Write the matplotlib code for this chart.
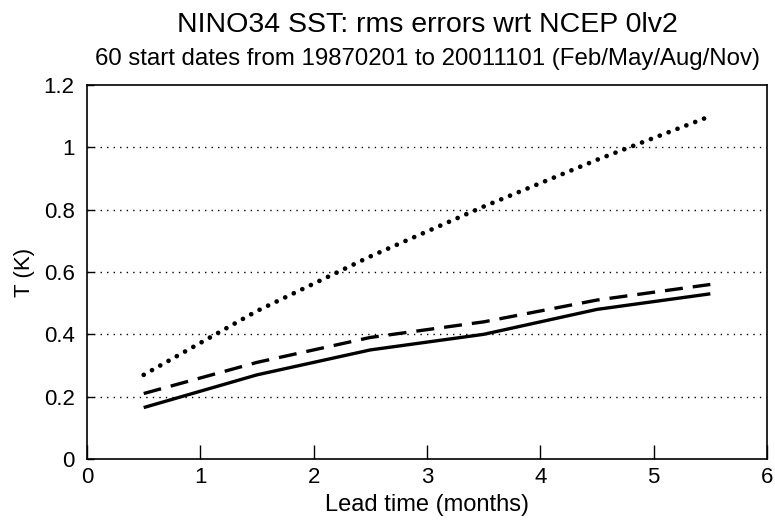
import matplotlib.pyplot as plt
import numpy as np

plt.rcParams['font.family'] = ['Liberation Sans', 'DejaVu Sans']

# lead times (months) and rms errors (K)
lead = [0.5, 1.5, 2.5, 3.5, 4.5, 5.5]
rms_solid = [0.165, 0.27, 0.35, 0.40, 0.48, 0.53]
rms_dashed = [0.21, 0.31, 0.39, 0.44, 0.51, 0.56]
rms_dotted = [0.27, 0.475, 0.65, 0.81, 0.96, 1.10]

yticks = [0, 0.2, 0.4, 0.6, 0.8, 1, 1.2]
ytick_labels = ['0', '0.2', '0.4', '0.6', '0.8', '1', '1.2']
xticks = [0, 1, 2, 3, 4, 5, 6]

fig = plt.figure(figsize=(7.75, 5.22), dpi=100)
left, bottom, width, height = 0.1123, 0.1207, 0.8774, 0.7165
ax = fig.add_axes([left, bottom, width, height])

# dotted reference grid at the interior y ticks
for y in yticks[1:-1]:
    ax.axhline(y, color='black', lw=1.0, ls=(0, (1, 3.7)), zorder=1)

ax.plot(lead, rms_solid, color='black', lw=2.4, solid_capstyle='butt', zorder=3)
ax.plot(lead, rms_dashed, color='black', lw=2.4, ls=(0, (5.4, 3)), zorder=3)
ax.plot(lead, rms_dotted, color='black', lw=3.4, ls=(0, (0.01, 2.0)),
        dash_capstyle='round', zorder=3)

ax.set_xlim(0, 6)
ax.set_ylim(0, 1.2)
ax.set_xticks(xticks)
ax.set_xticklabels([str(x) for x in xticks])
ax.set_yticks(yticks)
ax.set_yticklabels(ytick_labels)
ax.tick_params(axis='both', direction='in', labelsize=16, width=1, colors='black')
ax.tick_params(axis='x', length=10, pad=6)
ax.tick_params(axis='y', length=5, pad=9)
for s in ax.spines.values():
    s.set_linewidth(1.2)

ax.set_xlabel('Lead time (months)', fontsize=17, labelpad=4)
ax.set_ylabel('T (K)', fontsize=16, labelpad=6)

cx = left + width / 2
fig.text(cx, 1 - 32 / 522, 'NINO34 SST: rms errors wrt NCEP 0lv2',
         ha='center', va='baseline', fontsize=20.5)
fig.text(cx, 1 - 65 / 522, '60 start dates from 19870201 to 20011101 (Feb/May/Aug/Nov)',
         ha='center', va='baseline', fontsize=17.3)

fig.savefig('out.png', dpi=100)
